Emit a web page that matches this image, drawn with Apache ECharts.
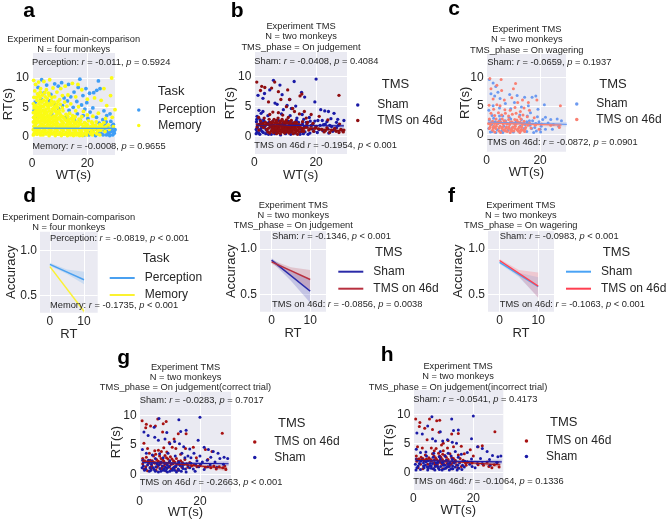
<!DOCTYPE html>
<html><head><meta charset="utf-8">
<style>html,body{margin:0;padding:0;background:#fff}#c{width:667px;height:520px}</style>
<script src="https://cdn.jsdelivr.net/npm/echarts@6/dist/echarts.min.js"></script>
</head><body><div id="c"></div>
<script>
const aPerception=[[24,9.5],[24.6,8.2],[23.4,7.9],[22.3,7.5],[17.3,9.8],[16.7,8.4],[19.5,8.2],[20.8,7.4],[18.4,7],[15.2,7.6],[14,6.8],[13.2,8.9],[10.7,9.2],[9.5,8.6],[8.2,9],[5.3,8.8],[3.5,9.7],[2.2,8.4],[4.4,7.5],[6.8,7.2],[11.6,6.6],[12.8,6.1],[16.2,6],[17.9,5.4],[19.8,5.8],[22,4.9],[21,4.2],[14.9,5],[13.4,4.5],[11,5.3],[9.6,4.8],[8,5.6],[6.4,6.1],[3.3,6.4],[1.2,5.9],[0.8,4.5],[1.3,3.2],[18.5,3.6],[20.2,3.1],[23.3,3.3],[25.6,2.9],[27,3.6],[28.5,2.6],[24.3,2.3],[26.4,1.9],[28.9,1.4],[29.6,0.9],[27.8,0.6],[26.2,1],[25,0.5],[23.8,0.8],[22.2,0.4],[29.2,0.3],[20.6,0.3],[27.4,1.6],[24.7,1.5],[29.4,2.1],[28.2,3.9],[16.4,3.9],[15.3,2.9],[12.2,3.3],[7.1,3.9],[17.4,2.8],[19.1,4.7],[26,4.4],[21.7,1.1],[23,0.2],[26.9,0.3],[28.6,0.9],[18.9,0.3],[24.9,1.1],[27,0.9],[28.1,0.2],[29.7,0.6],[25.7,0.3],[23.2,1.3],[21.1,0.7],[29,1.9],[26.8,2.5],[30,1.2]];
const aMemory=[[0.6,9.6],[1.3,8.9],[2.4,9.3],[3.1,8.2],[4.3,9.4],[6.4,9.7],[7.6,8.3],[5.2,8],[1,7.8],[2,7.3],[3.7,7.1],[6,7.4],[9,7.6],[10.4,8.2],[12,8.6],[14.6,9.1],[16.6,8.9],[18,8],[28.8,10],[26,8.2],[28.4,7],[30,4.6],[27,5.3],[25,6.2],[22.6,6.6],[20,6.4],[15.8,6.8],[13,7.1],[11,7],[8.2,6.8],[0.7,6.7],[1.8,6.2],[2.9,6.6],[4.1,6.2],[5.5,6.5],[7,6.1],[9.4,6],[11.8,5.9],[14,5.6],[16.8,5.1],[18.6,4.3],[0.5,5.6],[1.4,5.3],[2.5,5.6],[3.5,5.2],[4.6,5.5],[5.8,5.2],[6.9,5.4],[8.4,5.2],[10.2,5.5],[12.6,5.2],[0.8,4.9],[1.9,4.6],[3,4.8],[4,4.5],[5.1,4.7],[6.2,4.4],[7.3,4.7],[8.6,4.3],[9.8,4.5],[11.2,4.4],[13.6,4],[15.8,4.4],[24,4],[29,3.3],[26.6,3.1],[22,3.5],[20,3.7],[18,3.4],[0.5,4.1],[1.4,3.8],[2.4,4],[3.4,3.7],[4.5,3.9],[5.6,3.6],[6.7,3.9],[7.8,3.5],[9,3.8],[10.4,3.6],[11.6,3.2],[12.9,3.5],[14.3,3.1],[15.6,3.4],[17,3],[0.6,3.3],[1.6,3],[2.6,3.2],[3.7,2.9],[4.8,3.1],[5.9,2.8],[7,3.1],[8.1,2.8],[9.3,3],[10.6,2.7],[12,2.9],[13.4,2.6],[14.8,2.8],[16.2,2.5],[17.6,2.7],[19,2.4],[20.4,2.7],[21.8,2.3],[23.2,2.5],[24.6,2.1],[26,2.4],[27.6,2],[29.4,1.7],[0.5,2.5],[1.5,2.3],[2.6,2.5],[3.6,2.2],[4.7,2.4],[5.8,2.1],[6.9,2.4],[8,2.1],[9.1,2.3],[10.2,2],[11.3,2.3],[12.4,2],[13.5,2.2],[14.6,1.9],[15.7,2.2],[16.8,1.9],[17.9,2.1],[19,1.8],[20.1,2],[21.2,1.7],[22.3,1.9],[23.4,1.6],[24.5,1.8],[25.6,1.5],[26.7,1.7],[28,1.3],[0.7,1.8],[1.7,1.6],[2.8,1.8],[3.9,1.5],[5,1.7],[6.1,1.4],[7.2,1.7],[8.3,1.4],[9.4,1.6],[10.5,1.3],[11.6,1.6],[12.7,1.3],[13.8,1.5],[14.9,1.2],[16,1.5],[17.1,1.2],[18.2,1.4],[19.3,1.1],[20.4,1.3],[21.5,1],[22.6,1.3],[23.7,1],[24.8,1.1],[26.4,0.9],[0.5,1.2],[1.5,1],[2.6,1.2],[3.6,0.9],[4.7,1.1],[5.8,0.8],[6.9,1.1],[8,0.8],[9.1,1],[10.2,0.7],[11.3,1],[12.4,0.7],[13.5,0.9],[14.6,0.6],[15.7,0.9],[16.8,0.6],[17.9,0.8],[19,0.5],[20.1,0.8],[21.2,0.5],[22.3,0.7],[23.4,0.5],[24.5,0.3],[0.8,0.6],[1.8,0.4],[2.9,0.6],[4,0.3],[5.1,0.5],[6.2,0.2],[7.3,0.5],[8.4,0.2],[9.5,0.4],[10.6,0.2],[11.7,0.4],[12.8,0.2],[13.9,0.3],[15,0.2],[16.1,0.3],[17.2,0.2],[18.3,0.2],[1.1,2.8],[3.2,2.7],[5.3,2.6],[7.6,2.6],[0.5,0.3],[2.2,0.9],[4.2,1.9],[6.5,1.9],[8.8,1.9],[11,1.8],[13.1,1.7],[15.2,1.7],
[1.2,0.9],[3.1,0.3],[4.4,0.7],[6.6,0.6],[8.7,0.6],[10.9,0.5],[13.2,0.5],[15.4,0.5],[17.5,0.4],[19.7,0.3],[21.8,0.3],[1.9,1.3],[4.3,1.4],[6.7,1.3],[9,1.3],[11.2,1.3],[13.3,1.2],[15.5,1.1],[17.7,1],[19.9,1.5],[22,1.5],[24.2,1.4],[1.2,2],[3.3,2],[5.5,1.9],[7.7,2],[10,1.7],[12.2,1.7],[14.2,1.7],[16.4,1.7],[18.6,1.7],[20.8,1.4],[23,1.9],[25.2,2],[2,2.8],[4.2,2.7],[6.4,2.6],[8.8,2.6],[11,2.5],[13,2.4],[15.3,2.4],[17.2,2.3],[19.6,2.2],[21.6,2.5],[1,3.1],[3,3.4],[5.2,3.3],[7.4,3.3],[9.6,3.2],[11,3.4],[13.2,3],[15.1,3],[2,3.6],[4,3.3],[6.2,3.4],[8.4,3.4],[10,4],[12.3,3.8],[14.7,3.6],[1.2,4.3],[2.7,4.4],[4.5,4.3],[6,4.9],[7.9,4.9],[9.2,5],[11,4.9],[0.9,5.2],[2.2,5],[3.6,5.9],[5.2,6],[6.4,5.6],[8,5.9],[10,6.3],[3,7.6],[1.6,6.7],[4.8,6.8],[7.2,6.7],
[2.1,4.2],[3.3,4.2],[4.9,4.2],[7.2,4.2],[8.2,4.6],[9.1,4.1],[5.4,4.1],[1.1,3.5],[2.9,3.5],[4.2,3.6],[6.4,3.1],[8.7,3.2],[10,3.1],[12.5,2.7],[14,2.4],[1.6,4.9],[3.1,5.2],[4.2,5.1],[5.4,5.5],[7.5,5.6],[9,5.5],[3,6],[6.2,7],[2.5,7],[4.6,7.5]];
const bSham=[[20,9.6],[12.9,9.2],[6.2,9.4],[8.3,8.6],[3.3,7.2],[1.2,6.9],[2.8,6.4],[5,7.8],[9,7],[15.3,7.4],[16.3,6.6],[11.5,6.2],[6.7,5.6],[19.6,5.8],[7.4,5.4],[13.4,5.1],[10.6,5.2],[12,4.7],[9.4,4.5],[1.5,4.4],[2.8,4.2],[2.2,3.9],[0.9,3.4],[4.4,3.5],[8.8,3.8],[11.6,3.5],[13.8,3.1],[15.5,3.7],[17.8,3.2],[21.5,4.5],[22.8,4.3],[24,4.2],[25.8,3.9],[27,2.9],[24.8,3],[29,2.7],[26.6,2.4],[23.5,2.5],[20.6,2.7],[19,2.2],[17.3,2.4],[0.7,2.5],[1.4,2],[2.1,1.3],[0.9,0.8],[1.8,0.4],[3,2.8],[3.4,1.7],[4.2,0.9],[4.8,2.4],[5.5,0.4],[6.3,1.9],[7.1,0.7],[7.8,2.7],[8.5,0.3],[9.2,2.2],[10.1,0.5],[11,2.6],[11.8,0.4],[12.5,2.3],[13.2,0.6],[14,1.9],[14.8,0.4],[15.6,2.1],[16.4,0.8],[17.1,1.6],[18,0.6],[18.8,1.3],[19.6,2.6],[20.4,0.7],[21.3,1.9],[22.2,1],[23,2.1],[24.1,0.6],[25,1.7],[26,1.2],[27.2,1.9],[28.4,1.1],[1,1.5],[2.4,2.4],[3.8,1.2],[5.1,1.6],[6,2.6],[7.5,1.3],[9.8,1.5],[13.6,2.7],[16,2.9],[0.6,0.5],[2.9,0.7],[4.6,0.4],[6.6,0.5],[15.3,1.2],
[1.1,1.9],[1.7,1.1],[2.5,0.9],[3.1,1.8],[3.7,0.5],[4.3,2.2],[0.8,2.9],[1.9,2.8],[2.3,1.7],[15.1,0.8],[16.2,1.7],[17.4,0.4],[18.4,1.9],[19.3,0.9],[20,1.7],[21,1.2],[22.4,2],[23.8,1.3],[25.4,0.9],[16.8,2.4],[18.1,2.6],[15.9,0.5],[14.3,2.4],[0.6,1.2],[1.4,0.6],[2,2.2],[3.3,2.5],[22,2.7],[24.4,1.9],[26.6,1.5]];
const bTms=[[0.8,9.1],[2.4,8.4],[3.4,8.2],[5.6,8.1],[6.6,9.1],[7.8,7.5],[2,7.7],[11.4,6.2],[14.8,6.8],[15.4,7.1],[27.4,6.9],[10.8,7.8],[8.6,6.2],[4.6,5.8],[10.4,5],[12.4,4.7],[13,4.2],[6,4.1],[7.8,4],[9.2,3.6],[11,3.2],[14.6,3.8],[16.2,4.2],[16.8,3.1],[18.4,3.7],[21,3.4],[23.8,2.8],[27.6,2.1],[5,3.7],[3.2,3.1],[1.4,3.2],[2,2.6],[3.6,2.4],[4.8,2.9],[5.7,2.2],[6.4,2.9],[7,2.4],[7.7,3.1],[8.3,2.5],[9,2.9],[9.7,2.3],[10.4,2.8],[11.2,2.3],[12,2.7],[12.8,2.2],[13.6,2.4],[14.5,2],[15.6,2.5],[17,2],[18.4,1.8],[20,1.7],[21.8,1.2],[23.5,1.5],[25,1.1],[26.5,0.9],[28,1.2],[28.8,0.8],[5,1.9],[5.8,1.6],[6.5,1.3],[7.2,1.9],[7.9,1.5],[8.5,1.1],[9.1,1.9],[9.7,1.5],[10.3,1.1],[10.9,1.8],[11.5,1.4],[12.1,1],[12.7,1.8],[13.3,1.4],[13.9,1],[14.6,1.5],[15.4,0.9],[16.1,1.4],[5.4,0.9],[6.2,0.7],[7,1],[7.7,0.7],[8.4,0.5],[9.1,0.8],[9.8,0.6],[10.5,0.8],[11.2,0.6],[11.9,0.8],[12.6,0.5],[13.3,0.7],[14,0.4],[3,1.5],[4,1.2],[1.5,1.1],[2.3,1.8],[17.6,1.1],[19.2,0.9],[20.8,1.3],[22.6,0.8],[24.4,0.7],[8,2.1],[10,2.1],[12,2.1],[9.4,1.3],[11.2,1.1],[13,1.2],[6.8,1.6],[8.8,1.6],[10.6,1.4],[12.4,1.5],
[4.6,1.4],[5.2,2.4],[6,1.9],[6.6,2.3],[7.4,1.3],[8.2,1.9],[8.9,1.3],[9.5,2.5],[10.1,1.7],[10.7,2.3],[11.3,1.9],[11.9,1.3],[12.5,1.9],[13.1,1.7],[13.8,2],[14.3,1.2],[15,1.9],[15.5,1.3],[4.4,0.8],[5,0.6],[5.7,1.2],[6.4,1],[7.2,0.5],[7.9,1],[8.7,0.9],[9.4,1],[10,0.9],[10.8,1],[11.6,1],[12.3,0.9],[13.6,0.9],[14.5,0.8],[3.6,1.9],[4.3,2.1],[1.8,2],[2.8,2.2],[0.9,1.6],[16.8,1.6],[18.2,1.3],[19.6,1.4],[16,0.9],[17.2,2.4],[19,2.2],[23,1],[26,1.4],[27.4,0.7],[29,1.1],
[5.5,1.7],[6.2,1.5],[7,1.3],[7.6,1.7],[8.1,1.2],[8.6,2.1],[9.3,1.6],[9.9,1.9],[10.4,1.5],[11,1.2],[11.7,1.7],[12.2,1.2],[12.9,1.5],[13.5,1.2],[14.1,1.7],[6.1,1.1],[6.9,1.4],[7.5,2.2],[8.9,1],[9.6,1.2],[10.2,1.3],[10.8,1.6],[11.4,1.6],[12,1.9],[12.6,1.3],[13.2,2],[5.9,2.5],[7.2,2.7],[8.7,2.6],[10.2,2.5],[11.7,2.5],[13.1,2.4]];
const cSham=[[1,9.6],[2.4,9],[3.4,8.4],[4.2,7.4],[1.6,7.1],[3,6.7],[5,6.3],[8.6,7],[11.4,6.8],[14.2,6.5],[17,6.5],[18.4,6.7],[29.8,7.3],[10.4,5.6],[7,5.4],[2.4,5],[0.8,4.2],[4.8,4.6],[9,4.5],[13,4.8],[15.6,5],[19.2,4.4],[21.6,5.2],[16.4,3.8],[12.4,3.4],[6,3.2],[2,3.3],[19,3.1],[22,3],[24,2.6],[26.4,2.7],[28,2.4],[23,2],[25,1.7],[27,1.4],[20.4,1.4],[18.4,1.9],[16,2.4],[14,1],[12,0.6],[10,0.4],[8,0.7],[6,0.3],[4,0.8],[2,0.5],[0.8,1],[1,2.5],[3.2,2.2],[5,2.6],[7,2.4],[9,2.7],[11,2.2],[13,2.6],[15,2.2],[16.8,1],[18.6,0.6],[20.2,0.4],[22,0.9],[15,0.5],[17.6,0.3],[3,1.3],[6.4,1.4],[9.4,1.1],[12.6,1.4],[1.8,1.7],[4.2,1.9],[7.6,1.8],[10.6,1.7],[14.4,1.7],[17.2,2.4],[19.6,2.2],[21,2.6],[16.2,1.6],[18,1.2],[20,0.9],[24.6,0.9],[2.6,2.8],[4.8,3.2],[8.4,3],[15.2,3.2],[1.4,0.4],[3.4,0.3],[5.6,0.6]];
const cTms=[[1.2,9.8],[5.4,9.6],[10.8,8.9],[3.8,8.6],[1.6,8],[5.6,7.7],[10,8],[2.4,6.2],[6.6,6],[9.4,6.4],[11.6,5.6],[13.4,6],[15.6,5.6],[18.8,6],[27.6,5],[0.9,5.1],[2.6,4.4],[3.8,5.2],[5,5],[6.8,4.3],[8.8,4.2],[10.6,4.7],[12.6,4],[14,4.6],[16,4.2],[1.6,3.7],[3,3.3],[4.4,3.8],[5.6,3.4],[7,3.7],[8.2,3.2],[9.6,3.5],[11,3.7],[12.2,3.1],[13.6,3.4],[15.2,3.1],[17.8,2.9],[1,2.7],[2.2,2.3],[3.5,2.7],[4.6,2.3],[5.8,2.7],[7,2.2],[8.2,2.6],[9.3,2.2],[10.5,2.6],[11.6,2.2],[12.8,2.7],[14,2.3],[16,2],[18.2,1.6],[20.6,1.8],[24,1.6],[27.2,1.2],[1.4,1.7],[2.6,1.4],[3.8,1.8],[5,1.4],[6.2,1.8],[7.4,1.3],[8.6,1.7],[9.8,1.3],[11,1.8],[12.2,1.3],[13.4,1.7],[14.6,1.2],[16.6,1.1],[1,1],[2.2,0.7],[3.4,1],[4.6,0.6],[5.8,1],[7,0.6],[8.2,1],[9.4,0.6],[10.6,1],[11.8,0.6],[13,0.9],[14.2,0.5],[3,0.4],[5.2,0.3],[8.8,0.3],[12.4,0.3],[19.6,0.9],
[0.7,1.9],[1.8,2.1],[2.9,1.9],[4.1,2.1],[5.3,2.1],[6.5,2.4],[7.6,1.9],[8.9,2.1],[10.1,2],[11.3,2.5],[12.6,2.1],[13.8,2],[1.3,1.3],[2.4,1.1],[3.6,1.4],[4.7,1.1],[5.9,1.3],[7.1,1],[8.3,1.3],[9.5,1],[10.7,1.4],[11.9,1],[13.1,1.3],[14.3,0.9],[15.4,1.6],[6.4,0.7],[7.7,0.5],[9,0.8],[10.2,0.6],[11.4,0.8],[12.7,0.6],[13.7,0.7]];
const gTms=[[0.8,9.1],[2.2,8.5],[2,7.9],[3.6,8.2],[6,9.4],[5.2,8.2],[8.8,9],[7.8,8.6],[7.6,7.2],[12.8,6.9],[15.4,6.9],[27.4,7],[11.4,6],[9.8,5.4],[1.4,5.3],[2.6,4.4],[5,4],[6.2,4.1],[7.2,3.9],[9,3.8],[10.8,4.6],[12,4.4],[15.2,4.4],[17.8,4.6],[21.8,4.2],[24,3.9],[1,2.7],[2.2,2.9],[3.5,2.4],[4.6,3.1],[5.6,2.5],[6.6,3.1],[7.6,2.5],[8.4,3.2],[9.4,2.6],[10.2,3],[11.2,2.3],[12.2,2.7],[13.6,2.3],[15,2.5],[16.6,2],[18,1.6],[20,1.5],[21.8,1.2],[23.6,1.1],[25.4,0.9],[27.6,1.1],[28.6,0.8],[1,1.8],[2,1.3],[3,1.9],[4,1.4],[5,1.9],[6,1.4],[7,1.9],[8,1.4],[9,1.9],[10,1.4],[11,1.8],[12,1.3],[13,1.7],[14,1.2],[16,1.2],[1.4,0.9],[2.6,0.6],[3.8,0.9],[5.4,0.7],[7,0.9],[8.6,0.6],[10.4,0.9],[12.6,0.7],[26.4,1.3],[28.2,1.4],[3.2,3.6],[8,4.5],[13.6,3.4],[18.8,2.8],[22.6,2.5],
[1.6,2.3],[2.9,2.2],[4.2,2.3],[5.3,3.4],[6.2,2.2],[7.1,2.7],[8,2.2],[8.9,2.8],[9.8,2.1],[10.7,2.6],[11.6,2.1],[12.8,2.2],[14.2,2],[15.6,1.8],[17.2,1.4],[19,1.3],[24.6,1.4],[3.6,1.2],[4.6,2],[5.7,1.2],[6.6,1.7],[7.5,1.1],[8.5,1.7],[9.5,1.2],[10.5,1.7],[11.5,1.1]];
const gSham=[[20,9.7],[13,9.3],[6.4,9.5],[1.4,7.2],[2.8,6.6],[4.8,8],[9,7.1],[15.4,7.5],[13.6,7.3],[19.4,5.8],[5,6.3],[6.2,5.8],[8.4,6],[10,5.2],[11.6,5.6],[13.2,5.2],[14.6,4.7],[16.6,4.3],[21.4,4.6],[22.8,4.2],[24.4,3.9],[26,3.6],[0.9,4.2],[2.2,3.6],[4.2,3.3],[6.6,3.5],[9.4,3.6],[11.8,3.1],[14,3.6],[16,3.1],[18,3.6],[20,3.1],[23.6,2.9],[26.6,2.7],[28,2.9],[29.2,2.7],[25,2.1],[22.4,2.4],[19,2.3],[17,1.9],[15,2.8],[1,2.4],[2.6,1.6],[4,2.2],[5.4,1.3],[7,2.1],[8.6,1.2],[10,2.3],[11.6,1.3],[13,2.1],[14.4,1],[16,1.5],[17.8,0.9],[19.6,1.3],[21.4,0.8],[23.4,1.6],[25.6,1.2],[27.8,1.7],[1.6,0.7],[3.2,0.5],[4.8,0.8],[6.2,0.4],[7.8,0.7],[9.2,0.4],[10.8,0.7],[12.2,0.4],[13.8,0.5],[15.4,0.4],[18.4,0.5],[3.4,1.1],[6.4,1.6],[9.2,1.6],[12.4,1.7],[8,0.9],[11,1],[14.8,1.7],[17,2.8],[20.8,2.1],[5.2,2.7],[7.8,2.8],
[1.2,1.4],[2,0.9],[2.9,2.4],[3.9,1.7],[4.5,1.1],[5.8,1.8],[6.7,1],[7.5,1.4],[8.3,1.9],[9,1],[9.8,1.3],[10.6,1.8],[11.2,1.1],[12,1.4],[12.8,0.9],[13.4,1.5],[14.2,1.4],[15.2,0.9],[16.6,1.1],[18.6,1.6],[0.8,1.1],[3.7,0.7],[5.2,0.5],[7,0.5],[8.6,0.6],[10,0.5],[11.6,0.7],[13,0.7],[20.2,1.7],[22.6,1.3]];
const hTms=[[0.8,9.2],[2.2,8.6],[2,7.9],[5.4,9.2],[7.8,8.9],[8.8,9],[3.8,7.6],[6.4,7.4],[8.6,6.9],[12.8,6.6],[15,6.7],[27.2,7],[4.6,5.6],[11.6,5.5],[1.4,4.4],[3,4.2],[6,4.2],[7.6,4.1],[9.4,4.7],[10,5],[13.4,4.4],[16,4.5],[19,3.9],[21.6,4.4],[23,4.6],[1,2.8],[2.6,2.6],[4,3],[5.2,2.5],[6.4,3.2],[7.4,2.5],[8.4,3.3],[9.2,2.6],[10,3.7],[11,2.6],[12.2,3.2],[13.4,2.4],[15,3],[16.6,2.1],[18,1.8],[19.6,1.6],[21.6,1.3],[23.4,1.2],[25.2,1],[27,1.3],[28.6,0.9],[28,1.7],[1.2,1.9],[2.4,1.4],[3.6,2],[4.8,1.4],[6,1.9],[7.2,1.3],[8.4,1.9],[9.6,1.4],[10.8,1.9],[12,1.2],[13.2,1.7],[14.4,1.3],[16,1],[17.6,1.2],[1.6,0.8],[3.2,0.6],[5,0.9],[6.6,0.6],[8.2,0.9],[9.8,0.6],[11.4,0.9],[13,0.6],[14.8,0.8],[20,2.8],[24.6,1.8],[26.2,0.8],[17,3.2],[11.4,4.2],[9.8,3.1],[7,3.7],[4.4,2.3],
[1.8,2.3],[3.2,2.4],[5.8,2.2],[6.9,2.8],[7.8,2.2],[8.8,2.8],[9.7,2.2],[10.5,2.9],[11.6,2.2],[12.8,2.5],[14,2.1],[15.6,2.4],[17.4,1.6],[7,1.6],[8,1.4],[9,1.7],[10.2,1.4],[11.3,1.5],[12.6,1.4]];
const hSham=[[20,9.7],[12.8,9.2],[6.2,9.6],[1.2,6.8],[3,6.6],[4.8,8],[9,7],[15,7.3],[13.4,7.2],[19.4,5.8],[6.4,5.8],[7.4,5.4],[9.8,5.4],[11.4,5.6],[13,5.2],[14.4,5],[1,4],[2.4,3.4],[4.2,3.5],[6.8,3.3],[9,3.6],[11.6,3.3],[14,3.6],[16,3.1],[18,3.4],[21.4,4.4],[23,4.1],[24.6,3.6],[26.4,2.9],[28.2,2.7],[29.2,2.8],[25.4,2.2],[22.4,2.4],[19.4,2.3],[17.2,1.9],[15,2.6],[1,2.3],[2,1.5],[3,2.2],[4,1.2],[5,2],[6,1.1],[7,2.1],[8,1.1],[9,2.3],[10,1.2],[11,2.1],[12,1],[13,2.2],[14,0.9],[15.4,1.6],[17,0.9],[18.8,1.4],[20.6,0.8],[23,1.5],[25.6,1.2],[27.8,1.7],[1.2,0.8],[2.4,0.5],[3.6,0.8],[4.8,0.4],[6,0.7],[7.2,0.4],[8.4,0.7],[9.6,0.4],[10.8,0.7],[12,0.4],[13.2,0.6],[14.6,0.4],[16.2,0.5],[3.4,1.6],[5.6,1.5],[7.6,1.6],[9.6,1.7],[11.6,1.5],[13.6,1.6],[6.6,2.6],[8.6,2.7],[10.6,2.8],[12.6,2.8],[4.4,2.8],
[0.7,1.4],[1.6,1.1],[2.5,1.9],[3.4,1.1],[4.3,1.8],[4.7,0.9],[5.5,1.1],[6.4,1.5],[7.3,1],[8.2,1.7],[9.1,1],[10,1.8],[10.6,1.2],[11.4,1],[12.3,1.6],[13.1,1.1],[14,1.8],[14.8,1.2],[16.4,1.2],[18,1.8],[19.6,1],[21.4,1.5],[5,0.7],[6.8,0.6],[8.7,0.5],[10.3,0.6],[12.6,0.6],[15.2,0.7],[0.9,0.4]];

const scatterTicksX=[0,20], scatterTicksY=[0,5,10], lineTicksX=[0,10], lineTicksY=[0.5,1.0];

// regression lines and confidence bands: [WT, lower, upper]
const aPerceptionFit=[[0.5,1.46],[30,1.43]], aMemoryFit=[[0.5,1.42],[30,1.41]];
const bShamFit=[[0.5,1.95],[29,1.8]], bTmsFit=[[0.5,2.15],[29,0.98]];
const bShamBand=[[0.5,1.75,2.15],[15,1.75,2.05],[29,1.45,2.15]], bTmsBand=[[0.5,1.95,2.35],[15,1.45,1.75],[29,0.6,1.35]];
const cShamFit=[[0.5,2.1],[30,1.75]], cTmsFit=[[0.5,1.95],[28,1.6]];
const cShamBand=[[0.5,1.9,2.3],[15,1.75,2.1],[30,1.35,2.15]], cTmsBand=[[0.5,1.75,2.15],[15,1.6,1.95],[28,1.2,2]];
const gTmsFit=[[0.8,2.3],[29,1]], gShamFit=[[0.8,1.98],[29.5,1.8]];
const gTmsBand=[[0.8,2.05,2.55],[15,1.45,1.8],[29,0.55,1.45]], gShamBand=[[0.8,1.75,2.2],[15,1.75,2.05],[29.5,1.4,2.2]];
const hTmsFit=[[0.8,2.3],[29,1.3]], hShamFit=[[0.8,2.02],[29.5,1.8]];
const hTmsBand=[[0.8,2.05,2.55],[15,1.6,1.95],[29,0.85,1.75]], hShamBand=[[0.8,1.8,2.25],[15,1.75,2.05],[29.5,1.4,2.2]];
const dPerceptionFit=[[0,0.848],[10,0.676]], dMemoryFit=[[0,0.822],[10,0.325]];
const dPerceptionBand=[[0,0.83,0.865],[5,0.74,0.79],[10,0.625,0.765]], dMemoryBand=[[0,0.81,0.835],[5,0.56,0.59],[10,0.3,0.35]];
const eShamFit=[[0,0.879],[10,0.537]], eTmsFit=[[0,0.86],[10,0.665]];
const eShamBand=[[0,0.86,0.9],[5,0.65,0.75],[10,0.41,0.67]], eTmsBand=[[0,0.84,0.88],[5,0.72,0.8],[10,0.55,0.77]];
const fShamFit=[[0,0.853],[10,0.585]], fTmsFit=[[0,0.875],[10,0.592]];
const fShamBand=[[0,0.84,0.866],[5,0.69,0.74],[10,0.47,0.69]], fTmsBand=[[0,0.86,0.89],[5,0.7,0.77],[10,0.463,0.743]];

const INK='#262626', BG='#EAEAF2', FONT='"Liberation Sans",Arial,sans-serif';
const panels=[
 {k:'a',g:[32,53,83,102],xr:[0,30],yr:[-3.12,14.26],tx:scatterTicksX,ty:scatterTicksY,xn:'WT(s)',yn:'RT(s)',xg:14,yg:17,
  title:['Experiment Domain-comparison','N = four monkeys'],tc:73.7,ty0:39,lt:'Task',ltp:[157.7,91],lg:[138,104,'s'],letter:[23.3,11],
  st:[['Perception:','-0.011','= 0.5924',32,62.7],['Memory:','-0.0008','= 0.9655',32.3,146]],
  items:[['Perception','#3f9df5',aPerception,aPerceptionFit,null],['Memory','#fbfb14',aMemory,aMemoryFit,null]],fitOrder:[1,0]},
 {k:'b',g:[254.3,52,92.7,102],xr:[0,30],yr:[-2.88,14.12],tx:scatterTicksX,ty:scatterTicksY,xn:'WT(s)',yn:'RT(s)',xg:14.5,yg:17.5,
  title:['Experiment TMS','N = two monkeys','TMS_phase = On judgement'],tc:301,ty0:26.7,lt:'TMS',ltp:[381.7,84.3],lg:[357,99,'s'],letter:[230.7,11],
  st:[['Sham:','-0.0408','= 0.4084',254.3,61],['TMS on 46d','-0.1954','< 0.001',254.3,145.7]],
  items:[['Sham','#1a1aa6',bSham,bShamFit,bShamBand],['TMS on 46d','#8f0d10',bTms,bTmsFit,bTmsBand]]},
 {k:'c',g:[486.7,54,79.3,97.7],xr:[0,29.7],yr:[-3.05,14.09],tx:scatterTicksX,ty:scatterTicksY,xn:'WT(s)',yn:'RT(s)',xg:14.5,yg:15,
  title:['Experiment TMS','N = two monkeys','TMS_phase = On wagering'],tc:526.8,ty0:29.7,lt:'TMS',ltp:[599.3,84.3],lg:[576,98,'s'],letter:[448.3,9.5],
  st:[['Sham:','-0.0659','= 0.1937',487.3,62.7],['TMS on 46d:','-0.0872','= 0.0901',487.3,142.7]],
  items:[['Sham','#6d9af0',cSham,cShamFit,cShamBand],['TMS on 46d','#f98072',cTms,cTmsFit,cTmsBand]]},
 {k:'d',g:[40,231.7,57.7,81],xr:[-2.9,14],yr:[0.31,1.21],tx:lineTicksX,ty:lineTicksY,xn:'RT',yn:'Accuracy',xg:15,yg:22.5,line:true,
  title:['Experiment Domain-comparison','N = four monkeys'],tc:68.7,ty0:217,lt:'Task',ltp:[142.7,258.7],lg:[108.7,272,'l'],letter:[23.3,196],
  st:[['Perception:','-0.0819','< 0.001',50,238],['Memory:','-0.1735','< 0.001',50,305.7]],
  items:[['Perception','#4aa0f0',null,dPerceptionFit,dPerceptionBand],['Memory','#fbf230',null,dMemoryFit,dMemoryBand]]},
 {k:'e',g:[260,231,66,80.7],xr:[-3,14.1],yr:[0.31,1.2],tx:lineTicksX,ty:lineTicksY,xn:'RT',yn:'Accuracy',xg:15,yg:22.5,line:true,
  title:['Experiment TMS','N = two monkeys','TMS_phase = On judgement'],tc:293.3,ty0:205.3,lt:'TMS',ltp:[375,252.3],lg:[337.3,265.7,'l'],letter:[230,196],
  st:[['Sham:','-0.1346','< 0.001',272,236.7],['TMS on 46d:','-0.0856','= 0.0038',272,304.3]],
  items:[['Sham','#2a2aa8',null,eShamFit,eShamBand],['TMS on 46d','#b8303f',null,eTmsFit,eTmsBand]]},
 {k:'f',g:[488,231,66,80.7],xr:[-3,14.1],yr:[0.31,1.2],tx:lineTicksX,ty:lineTicksY,xn:'RT',yn:'Accuracy',xg:15,yg:23,line:true,
  title:['Experiment TMS','N = two monkeys','TMS_phase = On wagering'],tc:520.8,ty0:205.3,lt:'TMS',ltp:[602.7,252.3],lg:[565,265.7,'l'],letter:[448,196],
  st:[['Sham:','-0.0983','< 0.001',499.7,236.7],['TMS on 46d:','-0.1063','< 0.001',499.7,304.3]],
  items:[['Sham','#4aa3f5',null,fShamFit,fShamBand],['TMS on 46d','#ff3f50',null,fTmsFit,fTmsBand]]},
 {k:'g',g:[139.7,391.7,91.3,100.6],xr:[0,30.3],yr:[-3.06,14.05],tx:scatterTicksX,ty:scatterTicksY,xn:'WT(s)',yn:'RT(s)',xg:13.5,yg:17,
  title:['Experiment TMS','N = two monkeys','TMS_phase = On judgement(correct trial)'],tc:185.5,ty0:367,lt:'TMS',ltp:[278,423],lg:[254,436,'s'],letter:[117.3,358],
  st:[['Sham:','-0.0283','= 0.7017',139.7,400],['TMS on 46d','-0.2663','< 0.001',139.7,482.7]],
  items:[['TMS on 46d','#a81212',gTms,gTmsFit,gTmsBand],['Sham','#1a1aa6',gSham,gShamFit,gShamBand]]},
 {k:'h',g:[413.3,390,90,100],xr:[0,30],yr:[-3.05,14.2],tx:scatterTicksX,ty:scatterTicksY,xn:'WT(s)',yn:'RT(s)',xg:13.5,yg:17,
  title:['Experiment TMS','N = two monkeys','TMS_phase = On judgement(incorrect trial)'],tc:458,ty0:366.7,lt:'TMS',ltp:[550,422],lg:[525.7,435,'s'],letter:[380.7,355],
  st:[['Sham:','-0.0541','= 0.4173',413.3,399.3],['TMS on 46d:','-0.1064','= 0.1336',413.3,481]],
  items:[['TMS on 46d','#a81212',hTms,hTmsFit,hTmsBand],['Sham','#1a1aa6',hSham,hShamFit,hShamBand]]}
];

const grid=[],xAxis=[],yAxis=[],series=[],legend=[],graphic=[];
const text=(s,x,y,size,opt)=>graphic.push({type:'text',x,y,z:100,silent:true,style:Object.assign({text:s,fontSize:size,fontFamily:FONT,fill:INK,textAlign:'left',textVerticalAlign:'middle'},opt||{})});
const rich={n:{fontSize:9.3,fontFamily:FONT,fill:INK},i:{fontSize:9.3,fontFamily:FONT,fill:INK,fontStyle:'italic'}};
const band=(rows,color,xi)=>({type:'custom',coordinateSystem:'cartesian2d',xAxisIndex:xi,yAxisIndex:xi,silent:true,data:rows,encode:{x:0,y:[1,2]},z:4,animation:false,
  renderItem(params,api){
    if(params.dataIndex!==0) return;
    const up=rows.map(r=>api.coord([r[0],r[2]])), lo=rows.map(r=>api.coord([r[0],r[1]])).reverse();
    return {type:'polygon',shape:{points:up.concat(lo)},style:{fill:color,opacity:0.2},silent:true};
  }});
panels.forEach((p,i)=>{
  grid.push({left:p.g[0],top:p.g[1],width:p.g[2],height:p.g[3],show:true,backgroundColor:BG,borderWidth:0,containLabel:false});
  const axis=(r,t,name,gap,fmt,rot)=>({type:'value',gridIndex:i,min:r[0],max:r[1],name,nameLocation:'middle',nameGap:gap,nameMoveOverlap:false,nameRotate:rot,
    nameTextStyle:{fontSize:13,fontFamily:FONT,color:INK},axisLine:{show:false},axisTick:{show:false,customValues:t},
    axisLabel:{fontSize:12,fontFamily:FONT,color:INK,margin:3,customValues:t,formatter:fmt,showMinLabel:true,showMaxLabel:true,hideOverlap:false},
    splitLine:{show:true,lineStyle:{color:'#fff',width:1}}});
  xAxis.push(axis(p.xr,p.tx,p.xn,p.xg,v=>String(v)));
  yAxis.push(axis(p.yr,p.ty,p.yn,p.yg,v=>p.line?v.toFixed(1):String(v),90));
  p.items.forEach(it=>{ if(it[2]) series.push({type:'scatter',name:p.k+':'+it[0],data:it[2],xAxisIndex:i,yAxisIndex:i,symbol:'circle',symbolSize:p.k==='a'?3.8:(p.k==='b'?3.3:3),itemStyle:{color:it[1],opacity:1},silent:true,animation:false,z:3}); });
  const order=p.fitOrder?p.fitOrder.map(j=>p.items[j]):p.items;
  order.forEach(it=>{
    if(it[4]) series.push(band(it[4],it[1],i));
    series.push({type:'line',name:(p.line?p.k+':':'fit'+p.k+':')+it[0],data:it[3],xAxisIndex:i,yAxisIndex:i,symbol:'none',showSymbol:false,silent:true,animation:false,z:5,lineStyle:{color:it[1],width:p.line?1.4:1.2},itemStyle:{color:it[1]}});
  });
  const scat=p.lg[2]==='s';
  legend.push({left:scat?p.lg[0]-1:p.lg[0],top:p.lg[1],orient:'vertical',padding:0,selectedMode:false,itemWidth:scat?29:25,itemHeight:scat?3.5:1,itemGap:scat?3.4:5,
    data:p.items.map(it=>p.k+':'+it[0]),formatter:n=>n.slice(2),textStyle:{fontSize:12,fontFamily:FONT,color:INK,padding:scat?0:[0,0,0,5]}});
  p.title.forEach((l,j)=>text(l,p.tc,p.ty0+j*10.2,9.3,{textAlign:'center'}));
  p.st.forEach(s=>text('{n|'+s[0]+' }{i|r}{n| = '+s[1]+', }{i|p}{n| '+s[2]+'}',s[3],s[4],9.3,{rich}));
  text(p.lt,p.ltp[0],p.ltp[1],13);
  text(p.k,p.letter[0],p.letter[1],21,{fontWeight:'bold',fill:'#000'});
});
const chart=echarts.init(document.getElementById('c'),null,{renderer:'canvas'});
chart.setOption({animation:false,backgroundColor:'#fff',tooltip:{show:false},grid,xAxis,yAxis,series,legend,graphic});
</script></body></html>
